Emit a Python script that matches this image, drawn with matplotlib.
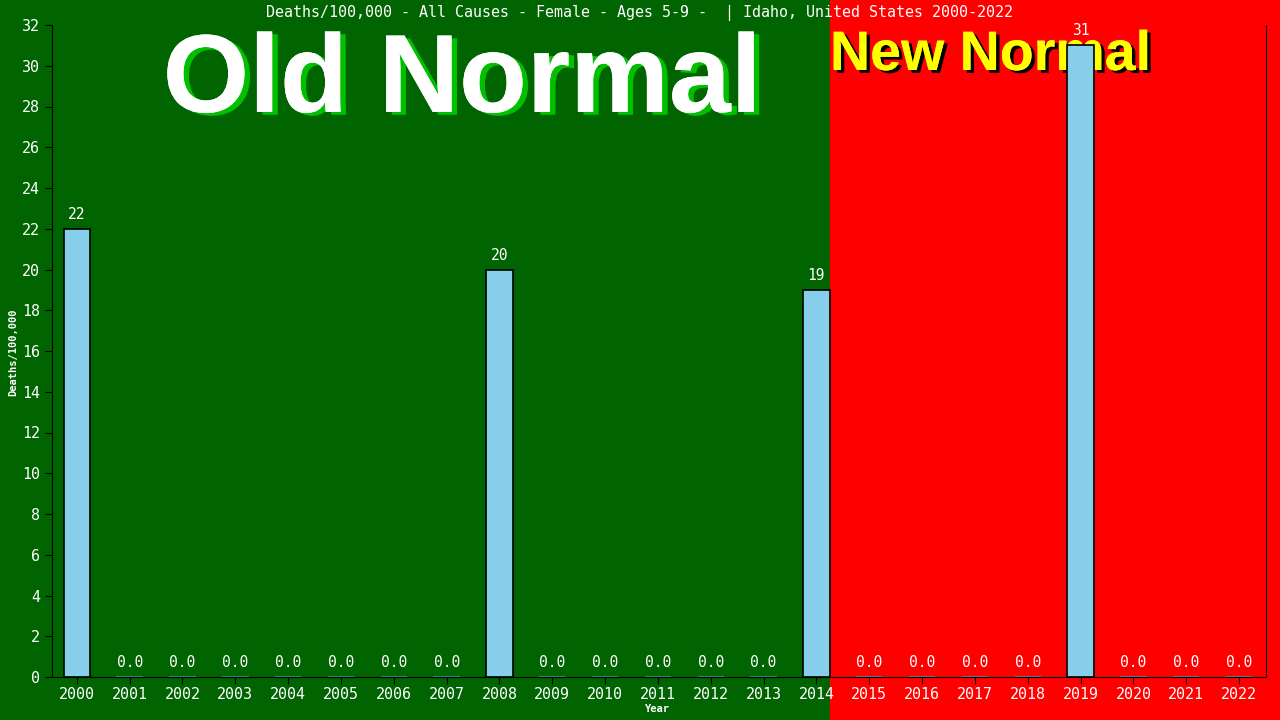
import matplotlib
matplotlib.use("Agg")
import matplotlib.pyplot as plt
from matplotlib.patches import Rectangle
import matplotlib.patheffects as pe

years = [str(y) for y in range(2000, 2023)]
deaths = [22, 0, 0, 0, 0, 0, 0, 0, 20, 0, 0, 0, 0, 0, 19, 0, 0, 0, 0, 31, 0, 0, 0]
title = "Deaths/100,000 - All Causes - Female - Ages 5-9 -  | Idaho, United States 2000-2022"

mono = "DejaVu Sans Mono"

fig = plt.figure(figsize=(12.8, 7.2), dpi=100)
split = 830 / 1280
fig.patches.append(Rectangle((0, 0), split, 1, transform=fig.transFigure,
                             color="#006400", zorder=-10))
fig.patches.append(Rectangle((split, 0), 1 - split, 1, transform=fig.transFigure,
                             color="#ff0000", zorder=-10))

ax = fig.add_axes([52 / 1280, 43 / 720, 1214 / 1280, 652 / 720])
ax.patch.set_visible(False)

x = list(range(len(years)))
edges = ["black" if v > 0 else "#4682b4" for v in deaths]
ax.bar(x, deaths, width=0.5, color="#87ceeb", edgecolor=edges, linewidth=1.2, zorder=3)

for i, v in enumerate(deaths):
    lbl = f"{v:.0f}" if v > 0 else "0.0"
    ax.annotate(lbl, (i, v), xytext=(0, 5), textcoords="offset points",
                ha="center", va="bottom", color="white", family=mono, fontsize=10.5, zorder=4)

ax.set_xlim(-0.47, 22.51)
ax.set_ylim(0, 32)
ax.set_yticks(range(0, 33, 2))
ax.set_xticks(x)
ax.set_xticklabels(years)
ax.tick_params(colors="black", labelcolor="white", length=5, direction="out")
ax.tick_params(axis="x", pad=2)
for lab in ax.get_xticklabels() + ax.get_yticklabels():
    lab.set_family(mono)
    lab.set_fontsize(10.8)
ax.spines["top"].set_visible(False)
for s in ["left", "bottom", "right"]:
    ax.spines[s].set_color("black")

fig.text(657 / 1280, 1 - 709 / 720, "Year", ha="center", va="center", color="white",
         family=mono, fontsize=7.5, fontweight="bold")
fig.text(13 / 1280, 1 - 352 / 720, "Deaths/100,000", ha="center", va="center", rotation=90,
         color="white", family=mono, fontsize=7.5, fontweight="bold")

fig.text(0.5, 1 - 13 / 720, title, ha="center", va="center", color="white",
         family=mono, fontsize=10.8)

# big labels drawn inside the axes, under the bars
ax.text(462 / 1280, 1 - 112 / 720, "Old Normal", ha="center", va="baseline",
        transform=fig.transFigure, zorder=1, clip_on=False,
        color="white", family="Liberation Sans", fontweight="bold", fontsize=80,
        path_effects=[pe.withSimplePatchShadow(offset=(4, -2), shadow_rgbFace="#00c000", alpha=1),
                      pe.Normal()])

ax.text(830 / 1280, 1 - 70 / 720, "New Normal", ha="left", va="baseline",
        transform=fig.transFigure, zorder=1, clip_on=False,
        color="#ffff00", family="Liberation Sans", fontweight="bold", fontsize=40,
        path_effects=[pe.withSimplePatchShadow(offset=(2.5, -2), shadow_rgbFace="black", alpha=1),
                      pe.Normal()])

fig.savefig("out.png", dpi=100)
